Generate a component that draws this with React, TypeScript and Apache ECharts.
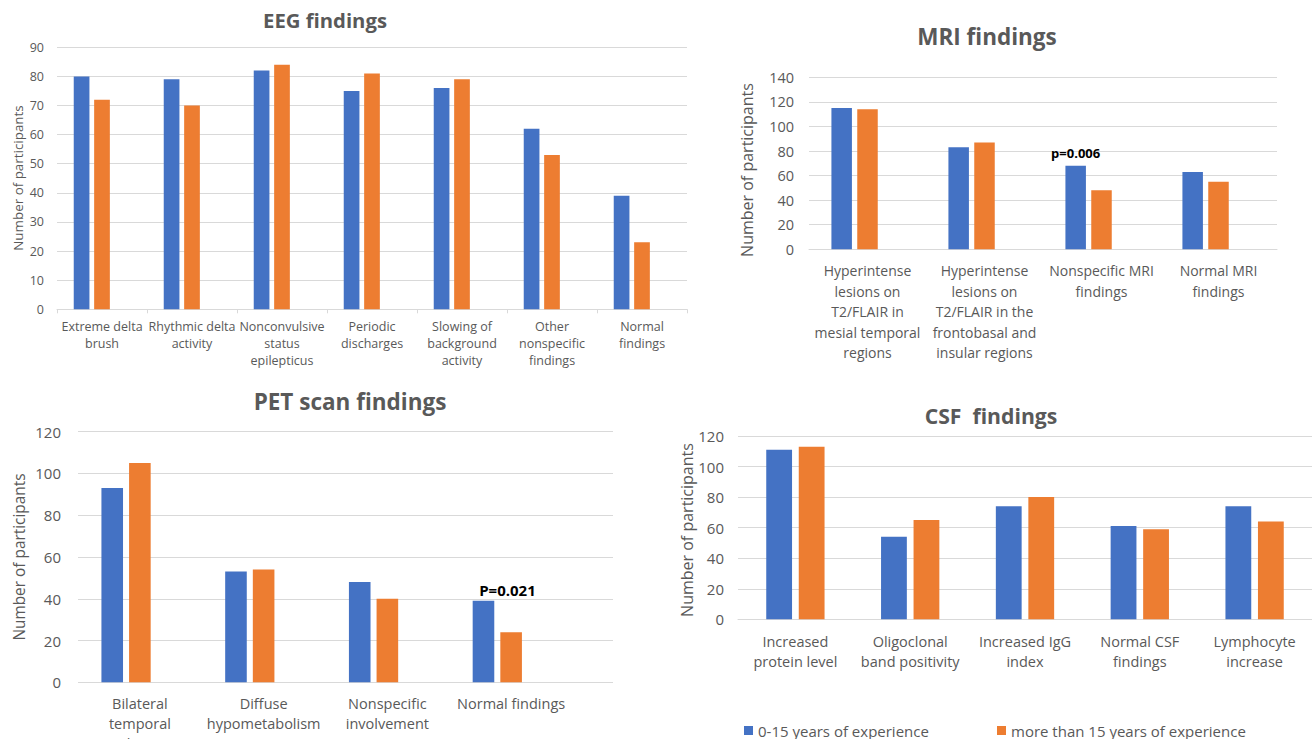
import React, { useEffect, useRef } from 'react';
import * as echarts from 'echarts';

const BLUE = '#4472C4';
const ORANGE = '#ED7D31';
const TEXT = '#595959';
const GRIDLINE = '#D9D9D9';
const FONT = '"Open Sans", "Noto Sans", sans-serif';

const seriesNames = ['0-15 years of experience', 'more than 15 years of experience'];
const yAxisTitle = 'Number of participants';

// EEG
const eegTitle = 'EEG findings';
const eegCategories = [
  'Extreme delta\nbrush',
  'Rhythmic delta\nactivity',
  'Nonconvulsive\nstatus\nepilepticus',
  'Periodic\ndischarges',
  'Slowing of\nbackground\nactivity',
  'Other\nnonspecific\nfindings',
  'Normal\nfindings',
];
const eegYoung = [80, 79, 82, 75, 76, 62, 39];
const eegSenior = [72, 70, 84, 81, 79, 53, 23];
const eegScale = { min: 0, max: 90, interval: 10 };

// MRI
const mriTitle = 'MRI findings';
const mriCategories = [
  'Hyperintense\nlesions on\nT2/FLAIR in\nmesial temporal\nregions',
  'Hyperintense\nlesions on\nT2/FLAIR in the\nfrontobasal and\ninsular regions',
  'Nonspecific MRI\nfindings',
  'Normal MRI\nfindings',
];
const mriYoung = [115, 83, 68, 63];
const mriSenior = [114, 87, 48, 55];
const mriScale = { min: 0, max: 140, interval: 20 };
const mriNote = { index: 2, text: 'p=0.006' };

// PET
const petTitle = 'PET scan findings';
const petCategories = [
  'Bilateral\ntemporal\ninvolvement',
  'Diffuse\nhypometabolism',
  'Nonspecific\ninvolvement',
  'Normal findings',
];
const petYoung = [93, 53, 48, 39];
const petSenior = [105, 54, 40, 24];
const petScale = { min: 0, max: 120, interval: 20 };
const petNote = { index: 3, text: 'P=0.021' };

// CSF
const csfTitle = 'CSF  findings';
const csfCategories = [
  'Increased\nprotein level',
  'Oligoclonal\nband positivity',
  'Increased IgG\nindex',
  'Normal CSF\nfindings',
  'Lymphocyte\nincrease',
];
const csfYoung = [111, 54, 74, 61, 74];
const csfSenior = [113, 65, 80, 59, 64];
const csfScale = { min: 0, max: 120, interval: 20 };

function withNote(values: number[], note: { index: number; text: string }, label: any) {
  return values.map((v, i) =>
    i === note.index ? { value: v, label: { show: true, formatter: note.text, ...label } } : v
  );
}

function catAxis(gridIndex: number, data: string[], fontSize: number, lineHeight: number, margin: number, extra: any = {}) {
  return {
    type: 'category',
    gridIndex,
    data,
    axisLine: { show: true, lineStyle: { color: GRIDLINE, width: 1 } },
    axisTick: { show: false },
    axisLabel: { interval: 0, color: TEXT, fontSize, lineHeight, margin, fontFamily: FONT },
    ...extra,
  };
}

function valAxis(gridIndex: number, scale: any, fontSize: number, margin: number, extra: any = {}) {
  return {
    type: 'value',
    gridIndex,
    ...scale,
    axisLine: { show: false },
    axisTick: { show: false },
    axisLabel: { color: TEXT, fontSize, margin, fontFamily: FONT },
    splitLine: { show: true, lineStyle: { color: GRIDLINE, width: 1 } },
    ...extra,
  };
}

function bars(xi: number, yi: number, young: any[], senior: any[], barWidth: number, barGap: string, spacer: boolean) {
  const common = { type: 'bar', xAxisIndex: xi, yAxisIndex: yi, barWidth, barGap };
  const out: any[] = [
    { ...common, name: seriesNames[0], data: young, itemStyle: { color: BLUE } },
    { ...common, name: seriesNames[1], data: senior, itemStyle: { color: ORANGE } },
  ];
  if (spacer) {
    out.push({ ...common, name: 'spacer', data: young.map(() => null) });
  }
  return out;
}

function titleText(text: string, x: number, y: number, size: number) {
  return {
    type: 'text',
    x,
    y,
    style: {
      text,
      fill: TEXT,
      fontSize: size,
      fontWeight: 'bold',
      fontFamily: FONT,
      align: 'center',
      verticalAlign: 'middle',
      textAlign: 'center',
      textVerticalAlign: 'middle',
    },
  };
}

function yTitle(x: number, y: number, size: number) {
  return {
    type: 'text',
    x,
    y,
    rotation: Math.PI / 2,
    style: {
      text: yAxisTitle,
      fill: TEXT,
      fontSize: size,
      fontFamily: FONT,
      align: 'center',
      verticalAlign: 'middle',
      textAlign: 'center',
      textVerticalAlign: 'middle',
    },
  };
}

export default function App() {
  const ref = useRef<HTMLDivElement>(null);

  useEffect(() => {
    if (!ref.current) return;
    const chart = echarts.init(ref.current, undefined, { renderer: 'svg' });

    const g = { outerBoundsMode: 'none', containLabel: false };
    const option: any = {
      animation: false,
      backgroundColor: '#ffffff',
      textStyle: { fontFamily: FONT },
      grid: [
        { ...g, left: 57, top: 47.3, width: 630, height: 262 },
        { ...g, left: 809, top: 77.3, width: 468, height: 172 },
        { ...g, left: 78, top: 431.7, width: 535, height: 250.6 },
        { ...g, left: 78, top: 431.7, width: 495, height: 250.6 },
        { ...g, left: 738, top: 436, width: 574, height: 183.3 },
      ],
      xAxis: [
        catAxis(0, eegCategories, 12.5, 16.7, 9, {
          axisTick: { show: true, length: 4, lineStyle: { color: GRIDLINE } },
        }),
        catAxis(1, mriCategories, 14, 20.6, 11),
        { type: 'value', gridIndex: 2, min: 0, max: 1, show: false },
        catAxis(3, petCategories, 14.5, 20, 11, { axisLine: { show: false } }),
        catAxis(4, csfCategories, 14.5, 20, 12),
      ],
      yAxis: [
        valAxis(0, eegScale, 12.5, 13),
        valAxis(1, mriScale, 14.5, 15),
        valAxis(2, petScale, 15, 17),
        valAxis(3, petScale, 15, 17, { show: false, splitLine: { show: false } }),
        valAxis(4, csfScale, 15, 14),
      ],
      legend: [
        {
          data: [seriesNames[0]],
          left: 744,
          top: 723,
          padding: 0,
          icon: 'rect',
          itemWidth: 9,
          itemHeight: 9,
          selectedMode: false,
          textStyle: { color: TEXT, fontSize: 15, fontFamily: FONT },
        },
        {
          data: [seriesNames[1]],
          left: 997,
          top: 723,
          padding: 0,
          icon: 'rect',
          itemWidth: 9,
          itemHeight: 9,
          selectedMode: false,
          textStyle: { color: TEXT, fontSize: 15, fontFamily: FONT },
        },
      ],
      series: [
        ...bars(0, 0, eegYoung, eegSenior, 15.7, '30%', true),
        ...bars(
          1,
          1,
          withNote(mriYoung, mriNote, {
            position: 'top',
            distance: 6,
            color: '#000000',
            fontWeight: 'bold',
            fontSize: 13,
            fontFamily: FONT,
          }),
          mriSenior,
          20.5,
          '26%',
          true
        ),
        ...bars(
          3,
          3,
          withNote(petYoung, petNote, {
            position: 'top',
            distance: 3,
            offset: [24, 0],
            color: '#000000',
            fontWeight: 'bold',
            fontSize: 15,
            fontFamily: FONT,
          }),
          petSenior,
          21.6,
          '28%',
          true
        ),
        ...bars(4, 4, csfYoung, csfSenior, 25.8, '26%', false),
      ],
      graphic: [
        titleText(eegTitle, 325, 20, 20.3),
        titleText(mriTitle, 987, 36, 22.5),
        titleText(petTitle, 350, 401, 22.5),
        titleText(csfTitle, 991, 415, 21.2),
        yTitle(17.5, 178, 13.4),
        yTitle(747, 170, 16),
        yTitle(19.3, 557, 15.4),
        yTitle(687, 530, 16),
      ],
    };

    chart.setOption(option);
    return () => chart.dispose();
  }, []);

  return (
    <div
      ref={ref}
      style={{ position: 'fixed', left: 0, top: 0, width: 1312, height: 739, background: '#fff' }}
    />
  );
}
